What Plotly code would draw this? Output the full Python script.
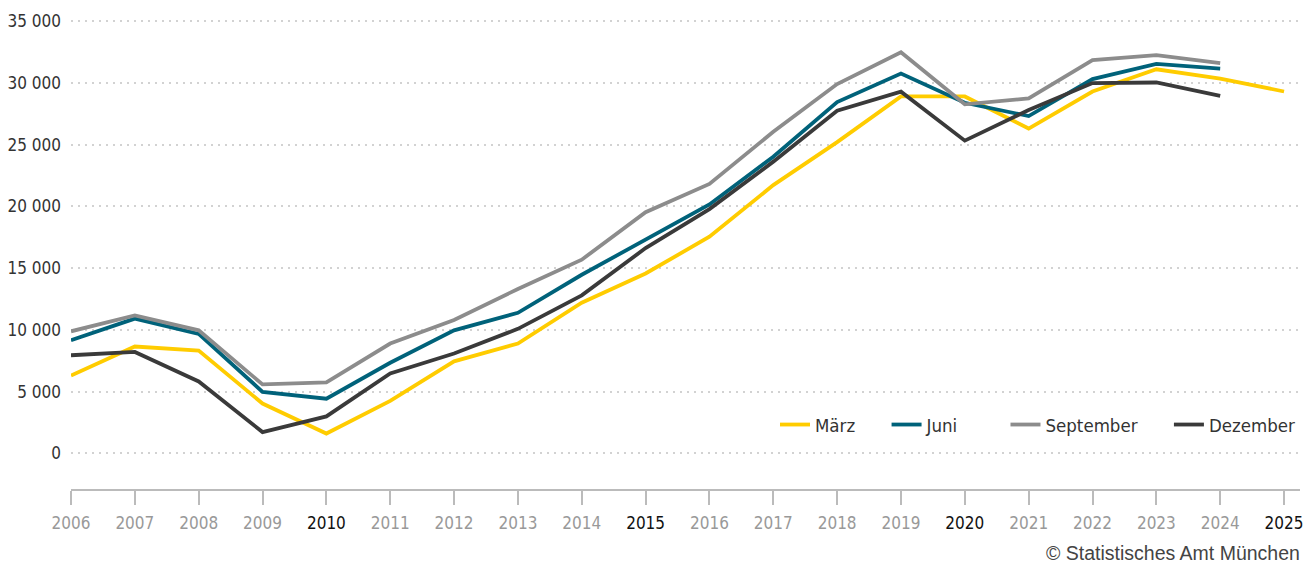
import plotly.graph_objects as go

years = list(range(2006, 2026))

maerz = [6300, 8650, 8320, 4030, 1600, 4250, 7450, 8890, 12200, 14560, 17540, 21720, 25200, 28900,
         28900, 26300, 29300, 31100, 30350, 29300]
juni = [9160, 10910, 9670, 4980, 4420, 7330, 9960, 11380, 14460, 17290, 20150, 24020, 28450, 30760,
        28390, 27310, 30300, 31540, 31150]
september = [9880, 11170, 9960, 5580, 5740, 8890, 10800, 13310, 15680, 19530, 21820, 26040, 29900, 32480,
             28260, 28740, 31840, 32240, 31590]
dezember = [7940, 8210, 5820, 1720, 2990, 6460, 8080, 10080, 12790, 16620, 19780, 23620, 27740, 29290,
            25320, 27800, 29980, 30030, 28950]

series_names = ["März", "Juni", "September", "Dezember"]
series_values = [maerz, juni, september, dezember]
colors = ["#FFCC00", "#00627A", "#8C8C8C", "#3A3A3A"]
legend_pad = [5, 8, 5, 0]  # trailing non-breaking spaces for legend spacing

y_ticks = [0, 5000, 10000, 15000, 20000, 25000, 30000, 35000]
y_ticktext = ["0", "5 000", "10 000", "15 000", "20 000", "25 000", "30 000", "35 000"]
highlight_years = [2010, 2015, 2020, 2025]

FONT = "DejaVu Sans Condensed, Liberation Sans Narrow, Arial Narrow, sans-serif"

fig = go.Figure()
for name, vals, col, pad in zip(series_names, series_values, colors, legend_pad):
    fig.add_trace(go.Scatter(
        x=years[:len(vals)], y=vals, name=name + "\u00a0" * pad, mode="lines",
        line=dict(color=col, width=3.8),
    ))

x_ticktext = [
    (f"<span style='color:#111111'>{y}</span>" if y in highlight_years else str(y))
    for y in years
]

# Page body has an 8px margin, so the figure is sized 8px smaller.
fig.update_layout(
    width=1306, height=557,
    margin=dict(l=63, r=14, t=2, b=76),
    paper_bgcolor="white", plot_bgcolor="white",
    font=dict(family=FONT, size=18, color="#333333"),
    showlegend=True,
    legend=dict(
        orientation="h", x=1, xanchor="right", y=0.1336, yanchor="middle",
        font=dict(family=FONT, size=18.5, color="#333333"),
        bgcolor="rgba(0,0,0,0)", itemwidth=30, borderwidth=0,
    ),
    xaxis=dict(
        range=[2006, 2025.25], tickmode="array", tickvals=years, ticktext=x_ticktext,
        showgrid=False, zeroline=False, automargin=False,
        showline=True, linecolor="#BBBBBB", linewidth=2,
        ticks="outside", ticklen=14, tickwidth=1.5, tickcolor="#BBBBBB",
        tickfont=dict(family=FONT, size=17, color="#999999"),
        ticklabelstandoff=4,
        fixedrange=True,
    ),
    yaxis=dict(
        range=[-2890, 35900], tickmode="array", tickvals=y_ticks, ticktext=y_ticktext,
        showgrid=True, gridcolor="#D2D2D2", gridwidth=2, griddash="2px,5px",
        zeroline=False, showline=False, ticks="", automargin=False,
        tickfont=dict(family=FONT, size=17, color="#333333"),
        ticklabelstandoff=9,
        fixedrange=True,
    ),
    annotations=[dict(
        text="© Statistisches Amt München", xref="paper", yref="paper",
        x=1.002, y=-0.1336, xanchor="right", yanchor="middle", showarrow=False,
        font=dict(family="Liberation Sans, Arial, sans-serif", size=19.5, color="#444444"),
    )],
)

fig.write_html("out.html")
